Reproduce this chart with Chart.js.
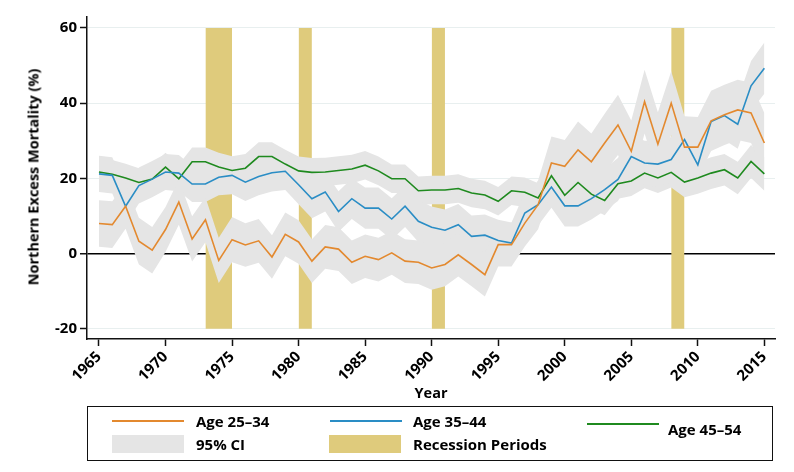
<!DOCTYPE html>
<html>
<head>
<meta charset="utf-8">
<script src="https://cdn.jsdelivr.net/npm/chart.js@4.4.1/dist/chart.umd.min.js"></script>
<style>
  html, body { margin: 0; padding: 0; background: #fff; }
  #wrap { position: relative; width: 794px; height: 472px; font-family: 'Open Sans', sans-serif; font-weight: bold; color: #000; }
  canvas { position: absolute; left: 0; top: 0; }
  .abs { position: absolute; white-space: nowrap; }
  #ytitle { left: 33px; top: 177px; transform: translate(-50%, -50%) rotate(-90deg); font-size: 14.5px; }
  #xtitle { left: 431px; top: 392px; transform: translate(-50%, -50%); font-size: 14.5px; }
  #legend { left: 87px; top: 406px; width: 684px; height: 53px; border: 1.5px solid #111; }
  .lline { position: absolute; height: 2px; width: 72px; }
  .lbox { position: absolute; height: 18px; width: 72px; }
  .ltext { position: absolute; font-size: 15px; transform: translateY(-50%); white-space: nowrap; }
</style>
</head>
<body>
<div id="wrap">
  <canvas id="c" width="794" height="472"></canvas>
  <div class="abs" id="ytitle">Northern Excess Mortality (%)</div>
  <div class="abs" id="xtitle">Year</div>
  <div class="abs" id="legend">
    <div class="lline" style="left:24px; top:13px; background:#e3892f;"></div>
    <div class="ltext" style="left:108px; top:14px;">Age 25–34</div>
    <div class="lbox" style="left:24px; top:28px; background:#e5e5e5;"></div>
    <div class="ltext" style="left:108px; top:37px;">95% CI</div>
    <div class="lline" style="left:242px; top:13px; background:#2a8dc5;"></div>
    <div class="ltext" style="left:325px; top:14px;">Age 35–44</div>
    <div class="lbox" style="left:241px; top:28px; background:#dfcb7c;"></div>
    <div class="ltext" style="left:325px; top:37px;">Recession Periods</div>
    <div class="lline" style="left:499px; top:16px; background:#1f8a1f;"></div>
    <div class="ltext" style="left:580px; top:22px;">Age 45–54</div>
  </div>
</div>
<script>
const years = [1965,1966,1967,1968,1969,1970,1971,1972,1973,1974,
               1975,1976,1977,1978,1979,1980,1981,1982,1983,1984,
               1985,1986,1987,1988,1989,1990,1991,1992,1993,1994,
               1995,1996,1997,1998,1999,2000,2001,2002,2003,2004,
               2005,2006,2007,2008,2009,2010,2011,2012,2013,2014,2015];

const age2534 = [8.0,7.7,12.6,3.3,0.9,6.4,13.7,3.9,9.0,-1.8,
                 3.7,2.3,3.4,-0.9,5.1,3.1,-2.0,1.8,1.2,-2.3,
                 -0.7,-1.6,0.2,-2.0,-2.3,-3.8,-2.9,-0.3,-2.9,-5.6,
                 2.4,2.4,8.1,13.0,24.1,23.2,27.6,24.4,29.4,34.2,
                 27.2,40.4,29.1,40.0,28.3,28.3,35.3,36.9,38.2,37.4,29.4];

const age3544 = [21.2,20.8,12.6,18.1,19.8,21.7,21.4,18.5,18.5,20.3,
                 20.8,19.0,20.5,21.5,21.9,18.3,14.6,16.4,11.2,14.6,
                 12.1,12.1,9.2,12.6,8.6,7.0,6.2,7.7,4.6,4.9,
                 3.5,2.8,10.8,13.0,17.7,12.7,12.7,14.6,17.0,19.7,
                 25.8,24.1,23.8,25.0,30.3,23.6,35.1,36.7,34.4,44.6,49.3];

const age4554 = [21.7,21.1,20.1,18.9,19.8,23.0,19.9,24.4,24.4,23.0,
                 22.1,22.7,25.8,25.8,23.8,22.0,21.6,21.7,22.1,22.5,
                 23.5,22.0,19.9,19.9,16.7,16.9,16.9,17.3,16.1,15.6,
                 13.9,16.7,16.3,14.8,20.7,15.5,18.9,15.8,14.1,18.6,
                 19.3,21.4,20.1,21.6,19.0,20.1,21.4,22.3,20.1,24.5,21.2];

// 95% CI half-widths
const ci2534 = [6.2,6.2,6.0,6.2,6.2,6.0,6.0,6.0,6.0,6.0,
                6.0,5.8,5.8,5.8,5.8,5.8,5.8,5.8,5.8,5.8,
                5.8,5.8,5.8,5.8,5.8,5.8,5.8,5.8,5.8,5.8,
                5.8,5.8,6.2,6.5,7.0,7.0,7.5,7.5,7.8,8.0,
                8.2,8.5,8.5,8.5,8.2,8.0,8.0,8.0,8.0,8.0,8.0];

const ci3544 = [4.8,4.8,4.8,4.8,4.8,4.8,4.8,4.8,4.8,4.8,
                5.0,5.0,5.0,5.0,5.0,5.2,5.2,5.2,5.4,5.4,
                5.5,5.5,5.5,5.5,5.5,5.5,5.5,5.5,5.5,5.5,
                5.5,5.5,5.5,5.5,5.5,5.5,5.5,5.5,5.6,5.7,
                5.8,5.9,6.0,6.0,6.2,6.2,6.5,6.5,6.5,6.6,6.8];

const ci4554 = [3.8,3.8,3.8,3.8,3.8,3.8,3.8,3.8,3.8,3.8,
                3.8,3.8,3.8,3.8,3.8,3.8,3.8,3.8,3.8,3.8,
                3.8,3.8,3.8,3.8,3.8,3.8,3.8,3.8,3.8,3.8,
                3.8,3.8,3.9,3.9,3.9,3.9,3.9,3.9,3.9,4.0,
                4.0,4.0,4.0,4.0,4.0,4.2,4.2,4.2,4.3,4.4,4.5];

const recessionStart = [1973, 1980, 1990, 2008];
const recessionEnd   = [1975, 1981, 1991, 2009];
const recessionLow   = -20;
const recessionHigh  = 60;

const yTicks = [-20, 0, 20, 40, 60];
const xTicks = [1965, 1970, 1975, 1980, 1985, 1990, 1995, 2000, 2005, 2010, 2015];

const COL_ORANGE = '#e3892f', COL_BLUE = '#2a8dc5', COL_GREEN = '#1f8a1f';
const COL_CI = '#e5e5e5', COL_REC = '#dfcb7c';

function pts(vals) { return years.map((y, i) => ({x: y, y: vals[i]})); }
function ptsOff(vals, hw, sign) { return years.map((y, i) => ({x: y, y: vals[i] + sign * hw[i]})); }

function lineDs(label, vals, color) {
  return { label, data: pts(vals), borderColor: color, borderWidth: 1.6, pointRadius: 0, tension: 0, fill: false };
}
function bandPair(vals, hw) {
  return [
    { label: 'lo', data: ptsOff(vals, hw, -1), borderWidth: 0, pointRadius: 0, fill: false, borderColor: 'rgba(0,0,0,0)' },
    { label: 'hi', data: ptsOff(vals, hw, 1), borderWidth: 0, pointRadius: 0, fill: '-1', backgroundColor: COL_CI, borderColor: 'rgba(0,0,0,0)' }
  ];
}

const datasets = [
  lineDs('Age 25–34', age2534, COL_ORANGE),
  lineDs('Age 35–44', age3544, COL_BLUE),
  lineDs('Age 45–54', age4554, COL_GREEN),
  ...bandPair(age2534, ci2534),
  ...bandPair(age3544, ci3544),
  ...bandPair(age4554, ci4554)
];
recessionStart.forEach((s, i) => {
  const e = recessionEnd[i];
  datasets.push({ label: 'rlo', data: [{x: s, y: recessionLow}, {x: e, y: recessionLow}], borderWidth: 0, pointRadius: 0, fill: false, borderColor: 'rgba(0,0,0,0)' });
  datasets.push({ label: 'rhi', data: [{x: s, y: recessionHigh}, {x: e, y: recessionHigh}], borderWidth: 0, pointRadius: 0, fill: '-1', backgroundColor: COL_REC, borderColor: 'rgba(0,0,0,0)' });
});

Chart.defaults.font.family = "'Open Sans', sans-serif";
Chart.defaults.color = '#000';

new Chart(document.getElementById('c'), {
  type: 'line',
  data: { datasets },
  options: {
    responsive: false,
    animation: false,
    layout: { padding: { top: 17, right: 19, left: 0, bottom: 0 } },
    plugins: {
      legend: { display: false },
      tooltip: { enabled: false },
      filler: { propagate: false, drawTime: 'beforeDatasetsDraw' }
    },
    scales: {
      x: {
        type: 'linear',
        min: 1964.1,
        max: 2015.8,
        afterBuildTicks: s => { s.ticks = xTicks.map(v => ({value: v})); },
        afterFit: s => { s.height = 133; },
        ticks: { font: { size: 15, weight: 'bold' }, minRotation: 45, maxRotation: 45, padding: 2, callback: v => String(v) },
        grid: { drawOnChartArea: false, drawTicks: true, tickLength: 7, tickColor: '#111', tickWidth: 1.5 },
        border: { display: true, color: '#111', width: 1.5 }
      },
      y: {
        type: 'linear',
        min: -22.7,
        max: 62.9,
        afterBuildTicks: s => { s.ticks = yTicks.map(v => ({value: v})); },
        afterFit: s => { s.width = 87; },
        ticks: { font: { size: 15, weight: 'bold' }, padding: 3, callback: v => String(v) },
        grid: {
          color: c => (c.tick && c.tick.value === 0) ? '#000' : '#e8efef',
          lineWidth: c => (c.tick && c.tick.value === 0) ? 1.5 : 1,
          tickLength: 7, tickColor: '#111', tickWidth: 1.5
        },
        border: { display: true, color: '#111', width: 1.5 }
      }
    }
  }
});
</script>
</body>
</html>
